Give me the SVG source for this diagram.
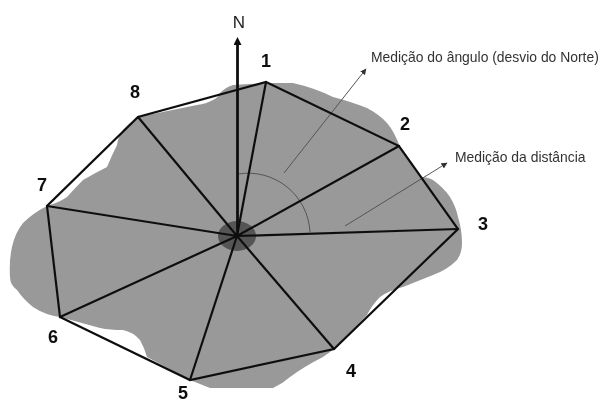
<svg xmlns="http://www.w3.org/2000/svg" width="601" height="403" viewBox="0 0 601 403">
<style>
.num{font:bold 18px "Liberation Sans",Arial,sans-serif;fill:#111;text-anchor:middle}
.lab{font:13.900px "Liberation Sans",Arial,sans-serif;fill:#333}
.edge{stroke:#111;stroke-width:2.2;fill:none;stroke-linecap:round}
.thin{stroke:#555;stroke-width:1;fill:none}
</style>
<defs>
<filter id="soft" x="-5%" y="-5%" width="110%" height="110%"><feGaussianBlur stdDeviation="0.45"/></filter>
<marker id="tip" markerWidth="7" markerHeight="7" refX="5.5" refY="3" orient="auto" markerUnits="userSpaceOnUse"><path d="M0 0L6 3L0 6z" fill="#333"/></marker>
<marker id="north" markerWidth="10" markerHeight="10" refX="1" refY="4" orient="auto" markerUnits="userSpaceOnUse"><path d="M0 0L8 4L0 8z" fill="#111"/></marker>
</defs>
<rect width="601" height="403" fill="#fff"/>
<g filter="url(#soft)">
<g id="area">
<path fill="#999" d="M220 93Q226 87 233 85L266 83L293 83Q315 88 333 97Q352 102 367 108Q380 115 387 123Q394 131 400 147L420 177Q428 177 433 180Q444 188 450 197Q456 207 458 217Q462 230 462 243Q462 253 457 260Q447 270 433 275Q418 281 403 287Q390 290 380 297Q372 305 367 315L337 347Q330 352 323 357Q305 366 290 377Q282 384 273 388L210 388L190 380L147 357Q144 347 140 340Q133 332 123 330Q110 330 100 328L60 317Q45 315 33 307Q24 300 17 290Q10 285 10 277Q9 260 12 247Q15 233 23 223Q33 213 47 206Q58 203 67 197Q75 188 83 180Q95 173 107 167Q112 155 117 145Q118 137 123 130Q128 124 138 117L197 105Q206 104 213 100Q219 97 220 93Z"/>
<ellipse cx="237" cy="236" rx="19" ry="15" fill="#555"/>
</g>
<g id="connectors">
<path class="thin" d="M238 174A62 62 0 0 1 310 232"/>
<path class="thin" marker-end="url(#tip)" d="M284 173L366 69"/>
<path class="thin" marker-end="url(#tip)" d="M345 226L447 163"/>
<path class="edge" d="M266 82L399 146L458 229L334 349L190 380L60 317L47 206L138 117Z"/>
<path class="edge" d="M237 236L266 82M237 236L399 146M237 236L458 229M237 236L334 349M237 236L190 380M237 236L60 317M237 236L47 206M237 236L138 117"/>
<path d="M237.500 236V44" stroke="#111" stroke-width="2.800" fill="none" marker-end="url(#north)"/>
</g>
<g id="node-N"><text x="239" y="28" font-family="Liberation Sans, Arial, sans-serif" font-size="17" fill="#222" text-anchor="middle">N</text></g>
<g id="node-1"><text class="num" x="266" y="67">1</text></g>
<g id="node-2"><text class="num" x="405" y="130">2</text></g>
<g id="node-3"><text class="num" x="483" y="230">3</text></g>
<g id="node-4"><text class="num" x="351" y="377">4</text></g>
<g id="node-5"><text class="num" x="183" y="399">5</text></g>
<g id="node-6"><text class="num" x="53" y="343">6</text></g>
<g id="node-7"><text class="num" x="42" y="191">7</text></g>
<g id="node-8"><text class="num" x="135" y="98">8</text></g>
<g id="label-angulo"><text class="lab" x="371" y="62">Medição do ângulo (desvio do Norte)</text></g>
<g id="label-distancia"><text class="lab" x="455" y="162">Medição da distância</text></g>
</g>
</svg>
